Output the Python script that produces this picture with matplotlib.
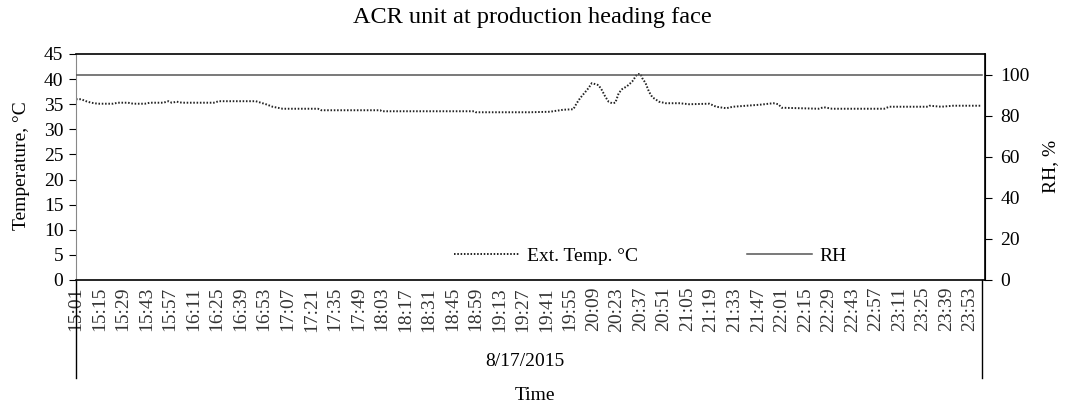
import matplotlib
matplotlib.use("Agg")
import matplotlib.pyplot as plt
import matplotlib.transforms as mtransforms

plt.rcParams['font.family'] = ['Liberation Serif', 'DejaVu Serif']

# minutes after 15:01 on 8/17/2015
temp_time = [0, 3, 6, 9, 13, 22, 25, 31, 34, 41, 44, 52, 55, 57, 60, 63, 82, 85,
             107, 110, 113, 117, 123, 139, 144, 146, 181, 182, 237, 238, 270, 282,
             290, 296, 298, 300, 305, 307, 311, 313, 315, 317, 319, 321, 323, 325,
             328, 331, 334, 336, 337, 339, 341, 343, 347, 351, 359, 365, 377, 381,
             387, 391, 399, 407, 415, 418, 420, 442, 445, 450, 481, 484, 507, 508,
             515, 522, 539]
temp_vals = [36.0, 36.0, 35.6, 35.3, 35.1, 35.1, 35.3, 35.3, 35.1, 35.1, 35.3, 35.3,
             35.6, 35.3, 35.5, 35.3, 35.3, 35.6, 35.6, 35.3, 35.0, 34.5, 34.1, 34.1,
             34.1, 33.8, 33.8, 33.6, 33.6, 33.4, 33.4, 33.5, 33.9, 34.0, 35.2, 36.2,
             38.2, 39.2, 38.8, 37.8, 36.5, 35.5, 35.2, 35.3, 37.2, 38.0, 38.6, 39.5,
             41.0, 41.0, 40.2, 39.2, 37.5, 36.4, 35.5, 35.2, 35.2, 35.0, 35.1, 34.5,
             34.2, 34.5, 34.7, 34.9, 35.2, 35.0, 34.3, 34.1, 34.4, 34.1, 34.1, 34.5,
             34.5, 34.7, 34.5, 34.7, 34.7]

rh_time = [0, 539]
rh_vals = [100, 100]

tick_labels = ['15:01', '15:15', '15:29', '15:43', '15:57', '16:11', '16:25', '16:39',
               '16:53', '17:07', '17:21', '17:35', '17:49', '18:03', '18:17', '18:31',
               '18:45', '18:59', '19:13', '19:27', '19:41', '19:55', '20:09', '20:23',
               '20:37', '20:51', '21:05', '21:19', '21:33', '21:47', '22:01', '22:15',
               '22:29', '22:43', '22:57', '23:11', '23:25', '23:39', '23:53']
tick_pos = [14 * i for i in range(len(tick_labels))]

W, H = 1069, 413
fig = plt.figure(figsize=(W / 100, H / 100), dpi=100)
ax = fig.add_axes([76 / W, 1 - 280 / H, (985 - 76) / W, (280 - 54) / H])
ax2 = ax.twinx()

fs = 14
l1, = ax.plot(temp_time, temp_vals, color='#222222', lw=1.4,
              linestyle=(0, (0.8, 0.9)), label='Ext. Temp. °C')
l2, = ax2.plot(rh_time, rh_vals, color='#555555', lw=1.1, label='RH')

ax.set_xlim(0, 541)
ax.set_ylim(0, 45)
ax.set_yticks(range(0, 46, 5))
ax2.set_ylim(0, 110)
ax2.set_yticks(range(0, 101, 20))

ax.set_xticks(tick_pos)
ax.set_xticklabels(tick_labels, rotation=90, fontsize=fs, color='#333333')
ax.tick_params(axis='x', length=0, pad=5)
ax.tick_params(axis='y', direction='out', length=5, width=0.8, labelsize=fs, pad=4)
ax2.tick_params(axis='y', direction='out', length=5, width=0.8, labelsize=fs, pad=6)

for sp in ['top', 'bottom']:
    ax.spines[sp].set_linewidth(1.2)
ax.spines['left'].set_color('#888888')
ax.spines['left'].set_linewidth(0.8)
ax2.spines['left'].set_visible(False)
ax2.spines['right'].set_linewidth(1.2)
ax2.spines['top'].set_visible(False)
ax2.spines['bottom'].set_visible(False)

# date group brackets under the category labels
trans = mtransforms.blended_transform_factory(ax.transData, ax.transAxes)
for xv in [0, 539]:
    ax.plot([xv, xv], [0, -98 / 226], color='black', lw=1.0,
            transform=trans, clip_on=False)

fig.text(525 / W, 1 - 362 / H, '8/17/2015', ha='center', va='center', fontsize=fs)
fig.text(535 / W, 1 - 395 / H, 'Time', ha='center', va='center', fontsize=fs)
fig.text(532 / W, 1 - 18 / H, 'ACR unit at production heading face',
         ha='center', va='center', fontsize=17.5)
fig.text(22 / W, 1 - 166 / H, 'Temperature, °C', rotation=90,
         ha='center', va='center', fontsize=fs)
fig.text(1051 / W, 1 - 166 / H, 'RH, %', rotation=90,
         ha='center', va='center', fontsize=fs)

fig.legend([l1, l2], ['Ext. Temp. °C', 'RH'], loc='center left',
           bbox_to_anchor=(454 / W, 1 - 256 / H), ncol=2, frameon=False,
           fontsize=fs, handlelength=3.35, handletextpad=0.4, columnspacing=5.6,
           borderpad=0, borderaxespad=0)

fig.savefig('out.png', dpi=100)
